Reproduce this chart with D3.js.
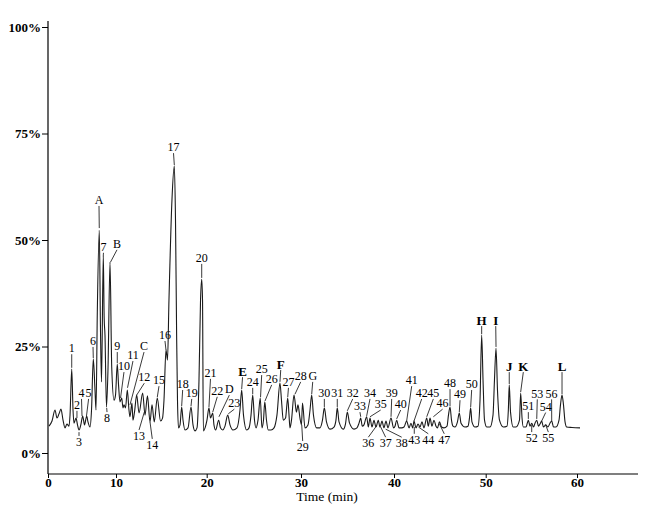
<!DOCTYPE html>
<html>
<head>
<meta charset="utf-8">
<script src="https://cdn.jsdelivr.net/npm/d3@7.9.0/dist/d3.min.js"></script>
<style>
  body { margin: 0; background: #fff; }
  svg text { font-family: "Liberation Serif", "Times New Roman", serif; fill: #000; }
</style>
</head>
<body>
<div id="chart"></div>
<script>
// retention time (min) and relative response (%)
const times = [0.15,0.59,1.03,1.32,1.62,1.91,2.21,2.5,2.79,3.09,3.24,3.49,3.68,3.82,4.12,4.34,4.56,4.85,5.1,5.37,5.69,5.88,6.18,6.4,6.66,6.91,7.06,7.25,7.54,7.72,7.87,8.13,8.26,8.38,8.6,8.82,9.12,9.37,9.71,9.93,
  10.14,10.28,10.44,10.63,10.77,10.88,11.05,11.25,11.43,11.54,11.76,11.87,12.04,12.28,12.54,12.94,13.2,13.47,13.75,13.97,14.22,14.55,14.91,15.13,15.29,15.51,15.68,15.84,16.17,16.43,16.56,16.69,16.78,16.89,17.06,17.24,17.39,17.61,17.94,18.27,18.49,18.71,18.93,19.15,19.32,19.45,19.54,19.63,19.82,
  20.03,20.24,20.4,20.64,20.77,20.95,21.27,21.46,21.7,21.94,22.23,22.47,22.79,23.21,23.53,23.71,23.9,24.24,24.49,24.7,24.88,25.07,25.23,25.44,25.68,25.86,26.02,26.16,26.34,26.53,26.82,27.14,27.45,27.77,27.93,28.12,28.36,28.59,28.73,28.83,28.99,29.26,29.52,29.68,29.89,
  30.05,30.16,30.43,30.75,30.97,31.15,31.34,31.69,32.04,32.31,32.51,32.74,33.12,33.55,33.76,33.9,34.09,34.55,34.78,34.98,35.22,35.7,36.02,36.24,36.42,36.59,36.77,37.06,37.24,37.42,37.63,37.85,38.06,38.31,38.49,38.71,38.92,39.14,39.35,39.68,39.95,
  40.11,40.29,40.55,40.84,41.09,41.38,41.64,41.85,42.04,42.18,42.4,42.62,42.84,43.05,43.27,43.57,43.74,43.93,44.14,44.36,44.58,44.74,44.96,45.18,45.45,45.78,45.94,46.11,46.27,46.43,46.65,46.92,47.12,47.31,47.74,48.07,48.23,48.36,48.5,48.83,49.16,49.38,49.56,49.71,49.87,
  50.11,50.47,50.8,50.96,51.13,51.29,51.51,51.93,52.33,52.48,52.58,52.72,53.02,53.32,53.7,53.83,53.98,54.12,54.41,54.67,54.85,55.04,55.24,55.4,55.59,55.78,55.95,56.13,56.33,56.57,56.82,57.04,57.23,57.43,57.7,58.03,58.19,58.36,58.52,58.69,58.87,59.45,60.33];
const response = [6.3,7.5,10.1,8.2,9.2,10.3,7.7,5.9,6.8,6.3,8.9,19.7,10.1,7.0,8.2,6.6,5.4,6.8,8.7,6.6,8.7,7.3,6.1,10.1,22.1,14.8,10.1,32.9,52.3,28.9,16.7,46.5,31.7,27.7,10.8,19.5,44.8,20.2,12.4,13.6,
  20.9,16.0,12.0,12.9,10.6,11.3,10.6,14.8,10.1,8.5,11.7,7.7,9.6,13.6,9.4,14.1,8.9,13.4,7.3,11.3,7.3,12.9,7.5,8.2,12.4,24.2,21.8,35.9,59.4,67.4,54.7,26.5,12.4,5.9,6.6,10.8,7.7,5.4,5.9,10.8,6.6,5.2,5.9,17.1,35.9,40.8,35.9,5.2,5.9,
  7.7,10.6,8.2,9.4,6.6,5.4,7.7,5.9,5.4,6.3,8.9,6.6,5.4,5.9,10.1,14.8,8.9,5.4,5.9,8.9,13.6,7.7,5.9,7.7,12.9,5.9,7.7,12.0,7.7,5.4,5.4,5.9,8.9,16.4,12.4,7.7,8.2,12.9,8.9,5.9,7.7,13.6,9.6,11.3,8.2,
  6.6,11.7,5.9,6.6,10.1,13.6,8.9,5.9,5.9,7.7,10.6,7.3,5.6,6.1,7.7,10.6,7.3,5.6,6.8,9.6,7.0,5.6,5.9,7.0,8.2,6.3,6.6,8.5,6.1,8.2,6.1,7.7,6.1,7.7,6.1,7.5,5.9,7.5,5.9,8.2,5.9,
  6.3,7.7,5.9,5.9,6.1,7.5,5.9,7.0,5.9,7.5,5.9,6.8,6.1,7.3,5.9,8.2,6.3,8.2,6.3,7.7,6.3,5.9,7.3,6.1,5.9,6.3,8.9,10.8,7.7,6.3,6.1,7.3,9.4,7.0,6.1,6.3,8.2,10.6,7.3,6.1,6.3,12.4,27.7,17.1,7.7,
  6.1,6.1,8.9,17.1,24.6,14.8,7.7,6.1,6.3,10.1,16.0,9.6,6.1,6.1,7.7,14.1,8.2,6.1,6.1,7.7,6.3,7.0,6.1,7.0,7.7,6.3,6.8,7.5,6.1,6.6,6.1,7.0,7.5,6.1,6.1,7.7,11.3,13.6,11.3,7.3,6.1,6.0,5.9];

// peak labels: text, label position (min, %), tip of the leader (min, %)
const peakNames = ["1","2","3","4","5","6","A","7","8","B","9","10","11","C","12","13","14","15","16","17","18","19","20","21","22","D","23","E","24","25","26","F","27","28","G","29","30","31","32","33","34","35","36","37","38","39","40","41","42","43","44","45","46","47","48","49","50","H","I","J","K","51","52","53","54","55","56","L"];
const labelTime = [3.49,4.26,4.56,4.93,5.97,6.62,7.5,8.16,8.68,10.11,10.14,10.88,11.87,13.09,13.12,12.54,14.0,14.74,15.4,16.34,17.35,18.35,19.45,20.4,21.12,22.4,22.93,23.8,24.88,25.83,26.89,27.85,28.67,29.97,31.26,30.18,32.51,33.9,35.56,36.34,37.42,38.57,37.24,39.1,40.84,39.75,40.73,41.93,43.02,42.21,43.74,44.29,45.3,45.48,46.11,47.2,48.47,49.56,51.1,52.58,54.12,54.67,55.04,55.65,56.57,56.86,57.22,58.36];
const labelLevel = [24.6,11.3,2.6,14.1,14.1,26.3,59.4,48.4,8.2,49.1,25.1,20.4,23.0,25.1,17.8,4.0,1.9,17.1,27.7,71.8,16.2,14.1,45.8,18.8,14.6,15.0,11.7,19.2,16.7,19.7,17.4,20.9,16.7,18.1,18.1,1.4,14.1,14.1,14.1,11.0,14.1,11.5,2.3,2.3,2.3,14.1,11.5,17.1,14.1,3.1,3.1,14.1,11.7,3.1,16.4,13.8,16.2,31.2,31.2,20.4,20.4,11.0,3.5,14.0,10.9,3.5,14.0,20.4];
const tipTime = [3.49,4.26,4.56,5.0,5.66,6.66,7.54,8.13,8.63,9.19,10.14,10.5,11.27,11.54,12.28,13.12,13.75,14.55,15.51,16.43,17.24,18.27,19.45,20.24,20.64,21.3,22.29,23.71,24.88,25.71,26.18,27.77,28.59,29.36,31.15,30.08,32.51,33.9,34.98,36.42,37.06,37.42,38.1,38.57,39.1,39.68,40.29,41.38,42.18,42.21,42.66,43.57,44.29,44.96,46.11,47.12,48.36,49.56,51.13,52.58,53.83,54.67,55.04,55.59,56.13,56.57,57.23,58.36];
const tipLevel = [20.0,8.2,4.9,8.7,8.7,22.3,52.8,46.5,10.6,44.8,21.1,12.9,15.3,11.3,13.6,9.6,7.3,13.1,24.2,67.6,11.0,11.0,41.1,10.8,9.6,8.5,9.2,15.0,13.8,13.1,12.2,16.7,13.1,13.8,13.8,6.6,10.8,10.8,9.9,8.5,8.7,8.5,6.3,6.1,5.6,8.5,8.0,7.5,7.5,6.1,6.1,8.5,8.5,6.8,11.0,9.6,10.8,27.9,24.9,16.2,14.3,8.0,6.6,8.0,7.5,6.6,7.5,13.8];
const boldNames = ["E","F","H","I","J","K","L"];

const xTicks = [0, 10, 20, 30, 40, 50, 60];
const yTicks = [0, 25, 50, 75, 100];

const width = 645, height = 511;

const svg = d3.select('#chart').append('svg')
  .attr('width', width)
  .attr('height', height);

// the printed time axis is not evenly spaced, so the scale follows its tick marks
const xScale = d3.scaleLinear()
  .domain(xTicks)
  .range([48, 116, 206.7, 301, 394, 485.7, 577]);

const yScale = d3.scaleLinear()
  .domain([0, 100])
  .range([453, 27]);

const axisY0 = 474;

// axes
svg.append('line')
  .attr('x1', 48).attr('x2', 638)
  .attr('y1', axisY0).attr('y2', axisY0)
  .attr('stroke', '#000').attr('stroke-width', 1.2);
svg.append('line')
  .attr('x1', 48).attr('x2', 48)
  .attr('y1', 21).attr('y2', axisY0)
  .attr('stroke', '#000').attr('stroke-width', 1.2);

const xAxis = svg.append('g')
  .attr('transform', `translate(0, ${axisY0})`)
  .call(d3.axisBottom(xScale).tickValues(xTicks).tickSize(4).tickFormat(d3.format('d')));
xAxis.select('.domain').remove();
xAxis.selectAll('text')
  .attr('dy', '0.55em')
  .attr('y', 6)
  .style('font-family', '"Liberation Serif", serif')
  .style('font-weight', 'bold')
  .style('font-size', '13px');

const yAxis = svg.append('g')
  .attr('transform', 'translate(48, 0)')
  .call(d3.axisLeft(yScale).tickValues(yTicks).tickSize(6).tickPadding(1).tickFormat(d => d + '%'));
yAxis.select('.domain').remove();
yAxis.selectAll('text')
  .style('font-family', '"Liberation Serif", serif')
  .style('font-weight', 'bold')
  .style('font-size', '13px');

svg.append('text')
  .attr('x', 327)
  .attr('y', 501)
  .attr('text-anchor', 'middle')
  .style('font-size', '13.5px')
  .text('Time (min)');

// chromatogram trace
const trace = times.map((t, i) => [t, response[i]]);
svg.append('path')
  .datum(trace)
  .attr('fill', 'none')
  .attr('stroke', '#1a1a1a')
  .attr('stroke-width', 1.1)
  .attr('stroke-linejoin', 'round')
  .attr('d', d3.line()
    .x(d => xScale(d[0]))
    .y(d => yScale(d[1]))
    .curve(d3.curveMonotoneX));

// peak labels with leader lines
const labels = peakNames.map((name, i) => ({
  name,
  lx: xScale(labelTime[i]),
  ly: yScale(labelLevel[i]),
  tx: xScale(tipTime[i]),
  ty: yScale(tipLevel[i])
}));

const ann = svg.append('g');
ann.selectAll('line')
  .data(labels)
  .join('line')
  .attr('x1', d => d.lx)
  .attr('y1', d => d.ty < d.ly ? d.ly - 6 : d.ly + 6)
  .attr('x2', d => d.tx)
  .attr('y2', d => d.ty)
  .attr('stroke', '#222')
  .attr('stroke-width', 0.9);

ann.selectAll('text')
  .data(labels)
  .join('text')
  .attr('x', d => d.lx)
  .attr('y', d => d.ly)
  .attr('dy', '0.35em')
  .attr('text-anchor', 'middle')
  .style('font-size', d => boldNames.includes(d.name) ? '13px' : '12px')
  .style('font-weight', d => boldNames.includes(d.name) ? 'bold' : 'normal')
  .text(d => d.name);
</script>
</body>
</html>
